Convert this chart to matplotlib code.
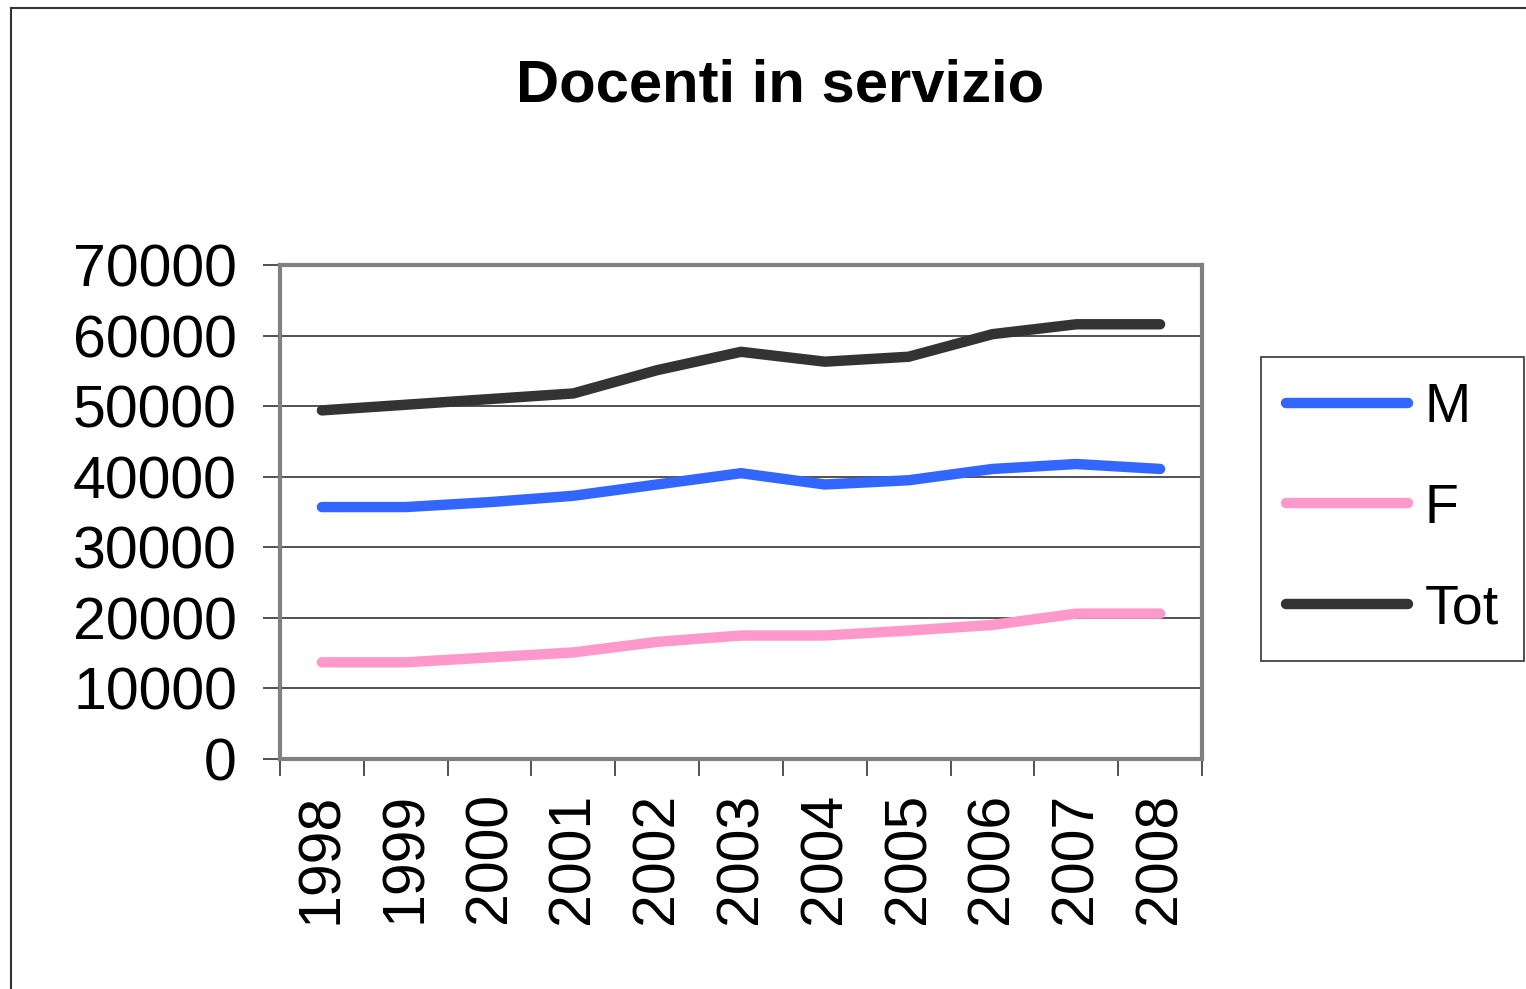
import matplotlib.pyplot as plt
from matplotlib.lines import Line2D

years = ["1998", "1999", "2000", "2001", "2002", "2003", "2004", "2005", "2006", "2007", "2008"]
maschi = [35700, 35700, 36400, 37300, 38900, 40500, 38900, 39500, 41100, 41800, 41100]
femmine = [13700, 13700, 14400, 15100, 16600, 17500, 17500, 18200, 19000, 20600, 20600]
totale = [49400, 50200, 51000, 51800, 55100, 57700, 56300, 57000, 60200, 61600, 61600]
y_ticks = [0, 10000, 20000, 30000, 40000, 50000, 60000, 70000]

plt.rcParams["font.family"] = ["Liberation Sans", "DejaVu Sans"]

fig = plt.figure(figsize=(15.26, 9.89), dpi=100)
ax = fig.add_axes([280 / 1526, 1 - 759 / 989, 922 / 1526, 494 / 989])

x = list(range(len(years)))
ax.plot(x, maschi, color="#3366FF", lw=7.5, solid_capstyle="round", label="M", zorder=3)
ax.plot(x, femmine, color="#FF99CC", lw=7.5, solid_capstyle="round", label="F", zorder=3)
ax.plot(x, totale, color="#333333", lw=7.5, solid_capstyle="round", label="Tot", zorder=3)

ax.set_xlim(-0.5, len(years) - 0.5)
ax.set_ylim(0, 70000)
ax.set_yticks(y_ticks)
ax.set_yticklabels([str(v) for v in y_ticks], fontsize=42.5)
ax.set_xticks(x)
ax.set_xticklabels(years, rotation=90, fontsize=42.5)
ax.set_xticks([i - 0.5 for i in range(len(years) + 1)], minor=True)
ax.tick_params(axis="x", which="major", length=0, pad=24)
ax.tick_params(axis="x", which="minor", length=12, width=1.2, color="#333333")
ax.tick_params(axis="y", length=12, width=1.2, color="#333333", pad=19)
ax.grid(axis="y", color="#333333", lw=1.2, zorder=1)
for s in ax.spines.values():
    s.set_color("#808080")
    s.set_linewidth(3)

leg = fig.legend(loc="upper left", bbox_to_anchor=(1261 / 1526, 1 - 357 / 989),
                 fontsize=40, handlelength=2.2, handletextpad=0.3, labelspacing=0.88,
                 borderpad=0.45, borderaxespad=0, fancybox=False, frameon=True)
leg.get_frame().set_edgecolor("black")
leg.get_frame().set_linewidth(1.2)

fig.text(780 / 1526, 1 - 80 / 989, "Docenti in servizio", fontsize=43, fontweight="bold",
         ha="center", va="center_baseline")

# outer chart border (left and top only visible)
fig.add_artist(Line2D([11 / 1526, 11 / 1526], [0, 1 - 8 / 989], color="#333333", lw=1.5))
fig.add_artist(Line2D([11 / 1526, 1], [1 - 8 / 989, 1 - 8 / 989], color="#333333", lw=1.5))

fig.savefig("out.png", dpi=100)
